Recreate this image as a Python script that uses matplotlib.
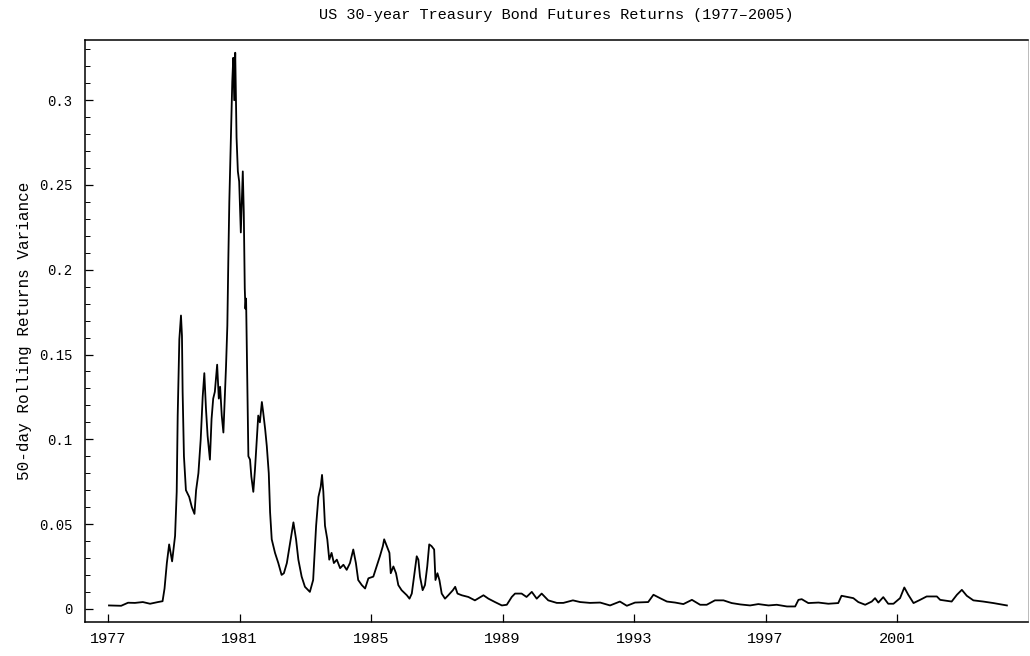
import numpy as np
import matplotlib
matplotlib.use('Agg')
import matplotlib.pyplot as plt
from matplotlib.ticker import MultipleLocator

# 50-day rolling variance
years = [1977.03, 1977.40, 1977.61, 1977.82, 1978.06, 1978.28, 1978.52, 1978.66,
         1978.72, 1978.79, 1978.86, 1978.95, 1979.04, 1979.09, 1979.12, 1979.17,
         1979.22, 1979.25, 1979.27, 1979.31, 1979.37, 1979.47, 1979.55, 1979.63,
         1979.68, 1979.75, 1979.82, 1979.88, 1979.93, 1979.98, 1980.03, 1980.10,
         1980.15, 1980.20, 1980.25, 1980.32, 1980.37, 1980.41, 1980.46, 1980.51,
         1980.56, 1980.59, 1980.63, 1980.66, 1980.69, 1980.73, 1980.76, 1980.78,
         1980.81, 1980.84, 1980.87, 1980.91, 1980.95, 1980.99, 1981.04, 1981.10,
         1981.13, 1981.16, 1981.18, 1981.20, 1981.22, 1981.25, 1981.27, 1981.32,
         1981.36, 1981.42, 1981.47, 1981.52, 1981.57, 1981.62, 1981.68, 1981.72,
         1981.78, 1981.83, 1981.89, 1981.93, 1981.98, 1982.08, 1982.18, 1982.28,
         1982.35, 1982.44, 1982.54, 1982.64, 1982.72, 1982.79, 1982.89, 1982.99,
         1983.14, 1983.24, 1983.33, 1983.40, 1983.47, 1983.51, 1983.55, 1983.60,
         1983.67, 1983.73, 1983.80, 1983.87, 1983.96, 1984.06, 1984.16, 1984.26,
         1984.36, 1984.46, 1984.54, 1984.61, 1984.72, 1984.82, 1984.92, 1985.07,
         1985.17, 1985.27, 1985.36, 1985.40, 1985.48, 1985.56, 1985.60, 1985.68,
         1985.76, 1985.83, 1985.93, 1986.09, 1986.17, 1986.24, 1986.32, 1986.39,
         1986.44, 1986.49, 1986.57, 1986.64, 1986.71, 1986.77, 1986.84, 1986.92,
         1986.96, 1987.02, 1987.08, 1987.15, 1987.25, 1987.35, 1987.49, 1987.56,
         1987.63, 1987.76, 1987.96, 1988.16, 1988.42, 1988.57, 1988.77, 1988.98,
         1989.13, 1989.28, 1989.38, 1989.58, 1989.73, 1989.89, 1990.04, 1990.19,
         1990.39, 1990.65, 1990.85, 1991.14, 1991.36, 1991.66, 1991.97, 1992.27,
         1992.57, 1992.78, 1993.03, 1993.43, 1993.59, 1993.79, 1994.00, 1994.25,
         1994.50, 1994.76, 1995.01, 1995.21, 1995.46, 1995.72, 1995.97, 1996.23,
         1996.53, 1996.78, 1997.09, 1997.34, 1997.65, 1997.90, 1998.00, 1998.10,
         1998.30, 1998.61, 1998.91, 1999.21, 1999.31, 1999.57, 1999.67, 1999.82,
         2000.03, 2000.23, 2000.33, 2000.43, 2000.58, 2000.73, 2000.89, 2001.09,
         2001.22, 2001.34, 2001.50, 2001.70, 2001.90, 2002.21, 2002.31, 2002.66,
         2002.82, 2002.97, 2003.12, 2003.32, 2003.62, 2003.93, 2004.34]

variance = [0.0020, 0.0018, 0.0036, 0.0035, 0.0040, 0.0030, 0.0040, 0.0045,
            0.012, 0.027, 0.038, 0.028, 0.043, 0.069, 0.114, 0.159,
            0.173, 0.161, 0.128, 0.090, 0.070, 0.066, 0.060, 0.056,
            0.070, 0.080, 0.100, 0.125, 0.139, 0.118, 0.102, 0.088,
            0.112, 0.124, 0.128, 0.144, 0.124, 0.131, 0.114, 0.104,
            0.128, 0.143, 0.167, 0.206, 0.240, 0.272, 0.297, 0.311,
            0.325, 0.300, 0.328, 0.278, 0.258, 0.252, 0.222, 0.258,
            0.234, 0.189, 0.177, 0.183, 0.157, 0.118, 0.090, 0.088,
            0.078, 0.069, 0.082, 0.098, 0.114, 0.110, 0.122, 0.116,
            0.106, 0.096, 0.080, 0.057, 0.041, 0.033, 0.027, 0.020,
            0.021, 0.027, 0.039, 0.051, 0.041, 0.029, 0.019, 0.013,
            0.010, 0.017, 0.049, 0.066, 0.072, 0.079, 0.069, 0.049,
            0.041, 0.029, 0.033, 0.027, 0.029, 0.024, 0.026, 0.023,
            0.027, 0.035, 0.027, 0.017, 0.014, 0.012, 0.018, 0.019,
            0.025, 0.031, 0.037, 0.041, 0.037, 0.033, 0.021, 0.025,
            0.021, 0.014, 0.011, 0.008, 0.006, 0.009, 0.021, 0.031,
            0.029, 0.019, 0.011, 0.014, 0.025, 0.038, 0.037, 0.035,
            0.017, 0.021, 0.017, 0.009, 0.006, 0.008, 0.011, 0.013,
            0.009, 0.008, 0.007, 0.005, 0.008, 0.006, 0.004, 0.002,
            0.0024, 0.007, 0.009, 0.009, 0.007, 0.010, 0.006, 0.009,
            0.005, 0.0035, 0.0035, 0.005, 0.004, 0.0035, 0.0037, 0.002,
            0.0043, 0.0018, 0.0037, 0.004, 0.0083, 0.0063, 0.0043, 0.0037,
            0.0028, 0.0053, 0.0024, 0.0024, 0.005, 0.005, 0.0034, 0.0026,
            0.002, 0.0028, 0.002, 0.0024, 0.0014, 0.0014, 0.0053, 0.0057,
            0.0034, 0.0037, 0.003, 0.0034, 0.0077, 0.0067, 0.0063, 0.004,
            0.0024, 0.0043, 0.0063, 0.0037, 0.0069, 0.003, 0.003, 0.0063,
            0.0126, 0.0083, 0.0034, 0.0053, 0.0073, 0.0073, 0.0053, 0.0043,
            0.0083, 0.0112, 0.0077, 0.005, 0.0043, 0.0034, 0.002]

x_ticks = [1977, 1981, 1985, 1989, 1993, 1997, 2001]
y_ticks = [0, 0.05, 0.1, 0.15, 0.2, 0.25, 0.3]
y_tick_labels = ['0', '0.05', '0.1', '0.15', '0.2', '0.25', '0.3']

plt.rcParams['font.family'] = ['Liberation Mono', 'DejaVu Sans Mono']

fig = plt.figure(figsize=(10.30, 6.56), dpi=100)
ax = fig.add_axes([0.0825, 0.052, 0.9155, 0.887])

ax.plot(years, variance, color='black', lw=1.3)

ax.set_xlim(1976.30, 2004.98)
ax.set_ylim(-0.0077, 0.3355)
ax.set_xticks(x_ticks)
ax.set_xticklabels([str(y) for y in x_ticks], fontsize=11)
ax.set_yticks(y_ticks)
ax.set_yticklabels(y_tick_labels, fontsize=10)
ax.yaxis.set_minor_locator(MultipleLocator(0.01))

ax.tick_params(axis='both', which='major', direction='in', length=6, width=0.9,
               color='black')
ax.tick_params(axis='y', which='minor', direction='in', length=3.5, width=0.7)
ax.tick_params(axis='x', pad=7)
ax.tick_params(axis='y', pad=9)

for side in ['left', 'bottom', 'top']:
    ax.spines[side].set_linewidth(1.1)
    ax.spines[side].set_color('black')
ax.spines['right'].set_linewidth(0.6)
ax.spines['right'].set_color('#b0b0b0')

ax.set_ylabel('50-day Rolling Returns Variance', fontsize=11.5, labelpad=5)
ax.set_title('US 30-year Treasury Bond Futures Returns (1977\u20132005)',
             fontsize=11, pad=15)

fig.savefig('out.png', dpi=100)
